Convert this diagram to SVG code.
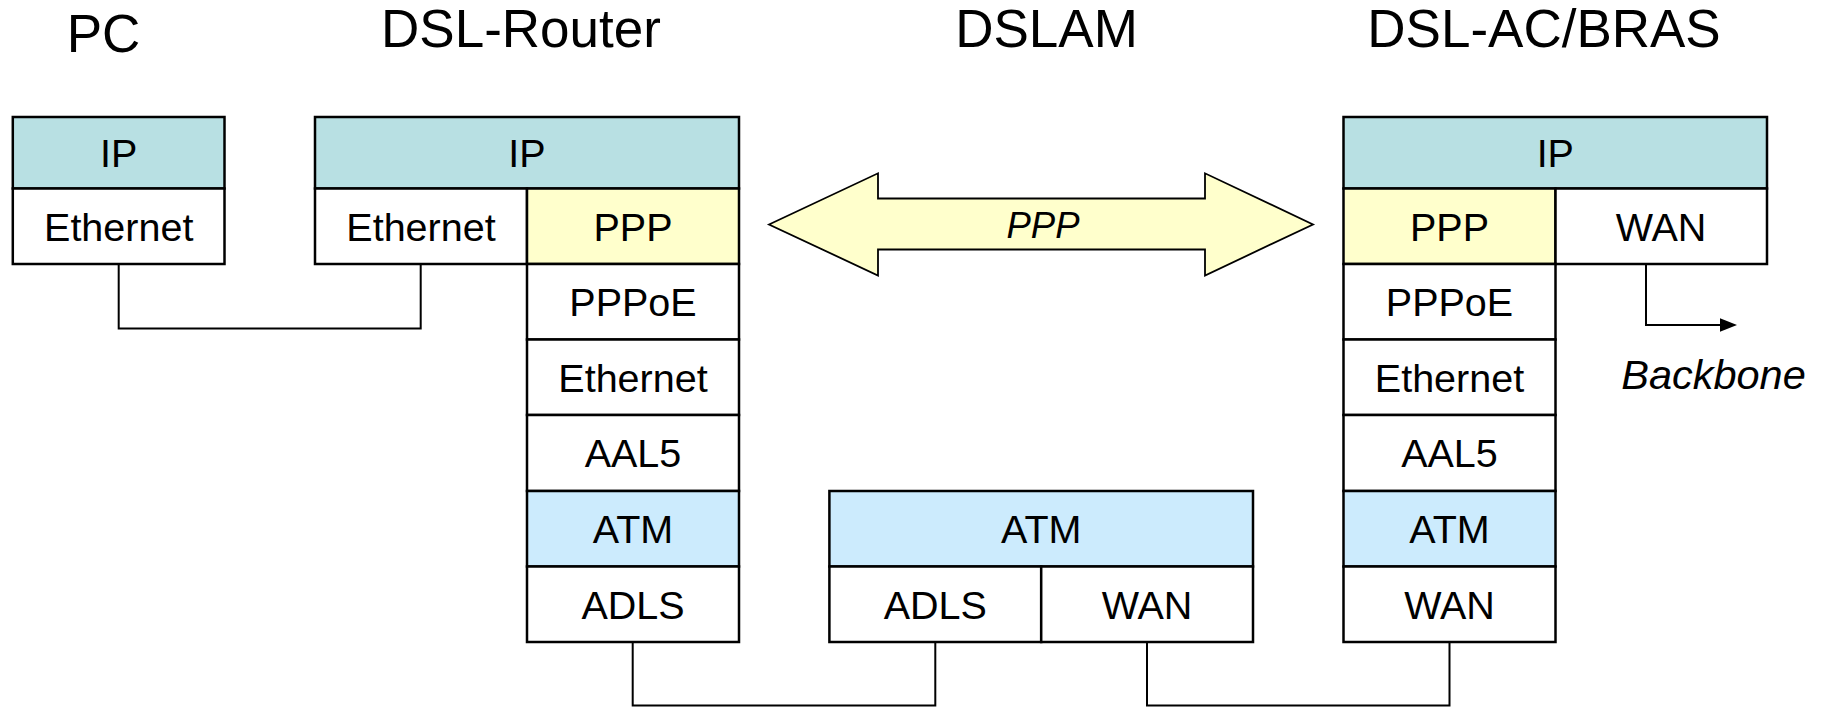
<svg xmlns="http://www.w3.org/2000/svg" width="1824" height="707" viewBox="0 0 1824 707">
<style>
.c{stroke:#000;stroke-width:2.5}
.w{fill:#fff}
.ip{fill:#B8E0E3}
.ppp{fill:#FFFFCC}
.atm{fill:#CCEBFD}
.t{font-family:"Liberation Sans",Arial,sans-serif;font-size:39.5px;text-anchor:middle;fill:#000}
.h{font-family:"Liberation Sans",Arial,sans-serif;font-size:53px;text-anchor:middle;fill:#000}
.i{font-family:"Liberation Sans",Arial,sans-serif;font-style:italic;text-anchor:middle;fill:#000}
.ln{fill:none;stroke:#000;stroke-width:2}
</style>
<rect width="1824" height="707" fill="#fff"/>
<g id="titles">
<text class="h" x="103.5" y="51.5">PC</text>
<text class="h" x="521" y="46.5">DSL-Router</text>
<text class="h" x="1046.5" y="46.5">DSLAM</text>
<text class="h" x="1544" y="46.5">DSL-AC/BRAS</text>
</g>
<g id="connectors">
<polyline class="ln" points="118.7,264 118.7,328.5 420.7,328.5 420.7,264"/>
<polyline class="ln" points="632.7,642 632.7,705.5 935.3,705.5 935.3,642"/>
<polyline class="ln" points="1147,642 1147,705.5 1449.5,705.5 1449.5,642"/>
<polyline class="ln" points="1646,264 1646,325 1722,325"/>
<polygon points="1720,318.3 1737,325 1720,331.7" fill="#000"/>
</g>
<g id="pc">
<rect class="c ip" x="12.8" y="117" width="211.7" height="71.5"/>
<rect class="c w" x="12.8" y="188.5" width="211.7" height="75.5"/>
<text class="t" x="118.7" y="167">IP</text>
<text class="t" x="118.7" y="240.5">Ethernet</text>
</g>
<g id="dsl-router">
<rect class="c ip" x="315" y="117" width="424" height="71.5"/>
<rect class="c w" x="315" y="188.5" width="212" height="75.5"/>
<rect class="c ppp" x="527" y="188.5" width="212" height="75.5"/>
<rect class="c w" x="527" y="264" width="212" height="75.5"/>
<rect class="c w" x="527" y="339.5" width="212" height="75.5"/>
<rect class="c w" x="527" y="415" width="212" height="76"/>
<rect class="c atm" x="527" y="491" width="212" height="75.5"/>
<rect class="c w" x="527" y="566.5" width="212" height="75.5"/>
<text class="t" x="527" y="167">IP</text>
<text class="t" x="421" y="240.5">Ethernet</text>
<text class="t" x="633" y="240.5">PPP</text>
<text class="t" x="633" y="316">PPPoE</text>
<text class="t" x="633" y="391.5">Ethernet</text>
<text class="t" x="633" y="467">AAL5</text>
<text class="t" x="633" y="543">ATM</text>
<text class="t" x="633" y="618.5">ADLS</text>
</g>
<g id="ppp-link">
<polygon points="769,224.5 878,173.3 878,198.5 1205,198.5 1205,173.3 1313,224.5 1205,275.5 1205,249.5 878,249.5 878,275.5" fill="#FFFFCC" stroke="#000" stroke-width="1.8" stroke-linejoin="miter"/>
<text class="i" x="1043" y="238" font-size="36.5">PPP</text>
</g>
<g id="dslam">
<rect class="c atm" x="829.4" y="491" width="423.6" height="75.5"/>
<rect class="c w" x="829.4" y="566.5" width="211.8" height="75.5"/>
<rect class="c w" x="1041.2" y="566.5" width="211.8" height="75.5"/>
<text class="t" x="1041.2" y="543">ATM</text>
<text class="t" x="935.3" y="618.5">ADLS</text>
<text class="t" x="1147" y="618.5">WAN</text>
</g>
<g id="bras">
<rect class="c ip" x="1343.5" y="117" width="423.5" height="71.5"/>
<rect class="c ppp" x="1343.5" y="188.5" width="212" height="75.5"/>
<rect class="c w" x="1555.5" y="188.5" width="211.5" height="75.5"/>
<rect class="c w" x="1343.5" y="264" width="212" height="75.5"/>
<rect class="c w" x="1343.5" y="339.5" width="212" height="75.5"/>
<rect class="c w" x="1343.5" y="415" width="212" height="76"/>
<rect class="c atm" x="1343.5" y="491" width="212" height="75.5"/>
<rect class="c w" x="1343.5" y="566.5" width="212" height="75.5"/>
<text class="t" x="1555.3" y="167">IP</text>
<text class="t" x="1449.5" y="240.5">PPP</text>
<text class="t" x="1661" y="240.5">WAN</text>
<text class="t" x="1449.5" y="316">PPPoE</text>
<text class="t" x="1449.5" y="391.5">Ethernet</text>
<text class="t" x="1449.5" y="467">AAL5</text>
<text class="t" x="1449.5" y="543">ATM</text>
<text class="t" x="1449.5" y="618.5">WAN</text>
</g>
<g id="backbone">
<text class="i" x="1713.5" y="389" font-size="41.5">Backbone</text>
</g>
</svg>
